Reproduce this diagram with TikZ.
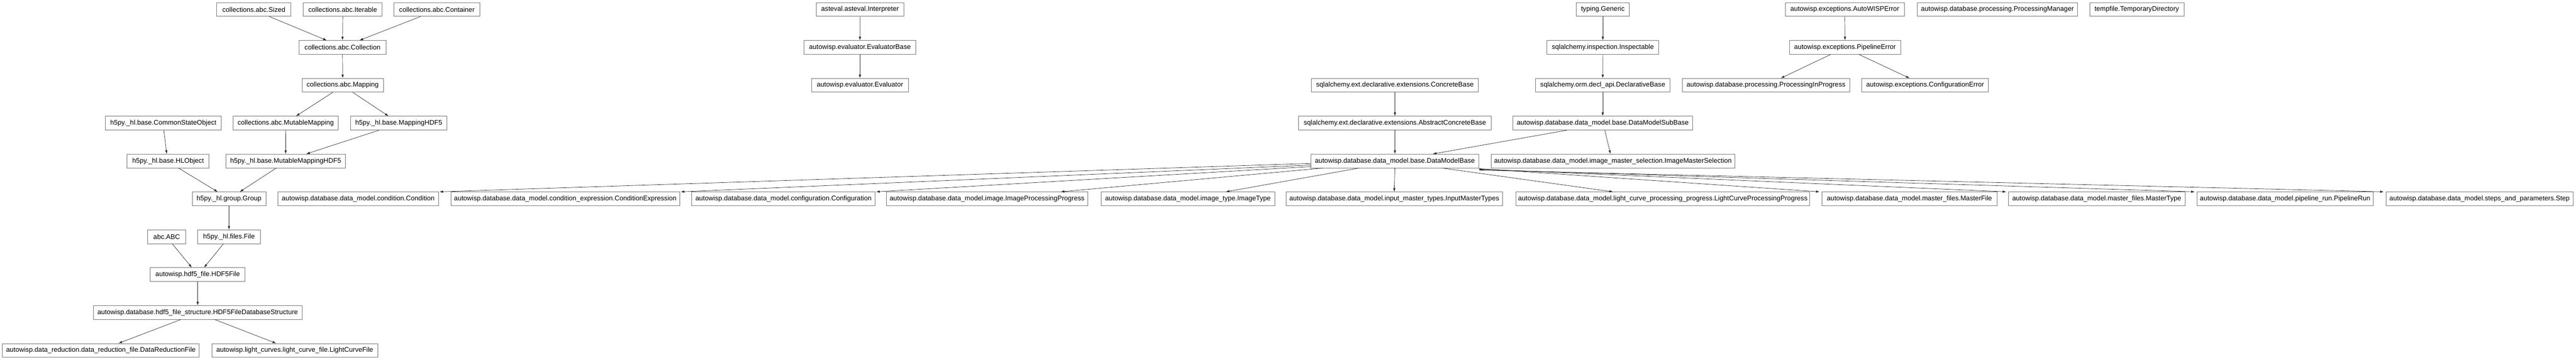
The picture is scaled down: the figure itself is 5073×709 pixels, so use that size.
\documentclass[tikz,border=0pt]{standalone}
\usepackage{fontspec}
\setmainfont{Liberation Sans}
\usetikzlibrary{arrows.meta}
\tikzset{
  cls/.style={draw=black!55, line width=0.9pt, fill=white, minimum height=27pt, inner sep=0pt, font=\fontsize{13.3}{15}\selectfont},
  inh/.style={draw=black!85, line width=0.7pt, -{Latex[length=7pt,width=4.6pt]}}
}
\begin{document}
\begin{tikzpicture}[x=1pt,y=-1pt]
\useasboundingbox[fill=white] (0,0) rectangle (5073,709);
% row 0
\node[cls, minimum width=146pt] (sized) at (500,18.8) {collections.abc.Sized};
\node[cls, minimum width=155.7pt] (iterable) at (674.9,18.8) {collections.abc.Iterable};
\node[cls, minimum width=168.6pt] (container) at (860.3,18.8) {collections.abc.Container};
\node[cls, minimum width=172.7pt] (interp) at (1693.7,18.8) {asteval.asteval.Interpreter};
\node[cls, minimum width=105pt] (generic) at (3156.5,18.8) {typing.Generic};
\node[cls, minimum width=234.4pt] (awerr) at (3633,18.8) {autowisp.exceptions.AutoWISPError};
\node[cls, minimum width=315.7pt] (procmgr) at (3933.5,18.8) {autowisp.database.processing.ProcessingManager};
\node[cls, minimum width=185.7pt] (tmpdir) at (4208,18.8) {tempfile.TemporaryDirectory};
% row 1
\node[cls, minimum width=171pt] (collection) at (674.5,93.4) {collections.abc.Collection};
\node[cls, minimum width=220pt] (evalbase) at (1693.5,93.4) {autowisp.evaluator.EvaluatorBase};
\node[cls, minimum width=220pt] (inspectable) at (3156.5,93.4) {sqlalchemy.inspection.Inspectable};
\node[cls, minimum width=219.2pt] (pipeerr) at (3633.4,93.4) {autowisp.exceptions.PipelineError};
% row 2
\node[cls, minimum width=160.4pt] (mapping) at (674.8,168) {collections.abc.Mapping};
\node[cls, minimum width=190.4pt] (evaluator) at (1693.5,168) {autowisp.evaluator.Evaluator};
\node[cls, minimum width=329pt] (concrete) at (2747,168) {sqlalchemy.ext.declarative.extensions.ConcreteBase};
\node[cls, minimum width=264pt] (declbase) at (3156.3,168) {sqlalchemy.orm.decl\_api.DeclarativeBase};
\node[cls, minimum width=329.6pt] (procinprog) at (3477.8,168) {autowisp.database.processing.ProcessingInProgress};
\node[cls, minimum width=249.5pt] (conferr) at (3791.2,168) {autowisp.exceptions.ConfigurationError};
% row 3
\node[cls, minimum width=228pt] (cso) at (321.7,242.6) {h5py.\_hl.base.CommonStateObject};
\node[cls, minimum width=207.5pt] (mutmap) at (562.7,242.6) {collections.abc.MutableMapping};
\node[cls, minimum width=189.4pt] (maphdf) at (785.3,242.6) {h5py.\_hl.base.MappingHDF5};
\node[cls, minimum width=379pt] (absconcrete) at (2747,242.6) {sqlalchemy.ext.declarative.extensions.AbstractConcreteBase};
\node[cls, minimum width=353.7pt] (dmsub) at (3156.3,242.6) {autowisp.database.data\_model.base.DataModelSubBase};
% row 4
\node[cls, minimum width=161pt] (hlobj) at (331,317.2) {h5py.\_hl.base.HLObject};
\node[cls, minimum width=235pt] (mutmaphdf) at (562.6,317.2) {h5py.\_hl.base.MutableMappingHDF5};
\node[cls, minimum width=330.7pt] (dmbase) at (2747,317.2) {autowisp.database.data\_model.base.DataModelBase};
\node[cls, minimum width=480.2pt] (imgsel) at (3176.4,317.2) {autowisp.database.data\_model.image\_master\_selection.ImageMasterSelection};
% row 5
\node[cls, minimum width=145pt] (group) at (451,391.8) {h5py.\_hl.group.Group};
\node[cls, minimum width=316.2pt] (condition) at (705.4,391.8) {autowisp.database.data\_model.condition.Condition};
\node[cls, minimum width=450.9pt] (condexpr) at (1113.3,391.8) {autowisp.database.data\_model.condition\_expression.ConditionExpression};
\node[cls, minimum width=361pt] (configuration) at (1543,391.8) {autowisp.database.data\_model.configuration.Configuration};
\node[cls, minimum width=396.2pt] (imgprog) at (1943.9,391.8) {autowisp.database.data\_model.image.ImageProcessingProgress};
\node[cls, minimum width=342pt] (imgtype) at (2339.4,391.8) {autowisp.database.data\_model.image\_type.ImageType};
\node[cls, minimum width=425.9pt] (inmaster) at (2745.7,391.8) {autowisp.database.data\_model.input\_master\_types.InputMasterTypes};
\node[cls, minimum width=578.8pt] (lcpp) at (3274.6,391.8) {autowisp.database.data\_model.light\_curve\_processing\_progress.LightCurveProcessingProgress};
\node[cls, minimum width=345.4pt] (mfile) at (3760.3,391.8) {autowisp.database.data\_model.master\_files.MasterFile};
\node[cls, minimum width=347.5pt] (mtype) at (4129.1,391.8) {autowisp.database.data\_model.master\_files.MasterType};
\node[cls, minimum width=347.1pt] (prun) at (4500.1,391.8) {autowisp.database.data\_model.pipeline\_run.PipelineRun};
\node[cls, minimum width=368.7pt] (step) at (4883.1,391.8) {autowisp.database.data\_model.steps\_and\_parameters.Step};
% row 6
\node[cls, minimum width=74.6pt] (abcabc) at (328.3,466.4) {abc.ABC};
\node[cls, minimum width=123.2pt] (files) at (450.9,466.4) {h5py.\_hl.files.File};
% row 7
\node[cls, minimum width=186.6pt] (hdffile) at (389.3,541) {autowisp.hdf5\_file.HDF5File};
% row 8
\node[cls, minimum width=410.6pt] (structure) at (389.3,615.6) {autowisp.database.hdf5\_file\_structure.HDF5FileDatabaseStructure};
% row 9
\node[cls, minimum width=387.4pt] (drfile) at (198.7,690.2) {autowisp.data\_reduction.data\_reduction\_file.DataReductionFile};
\node[cls, minimum width=326.8pt] (lcfile) at (580.4,690.2) {autowisp.light\_curves.light\_curve\_file.LightCurveFile};
% edges: collections / h5py cluster
\draw[inh] ([xshift=30.8pt]sized.south) -- ([xshift=-31.2pt]collection.north);
\draw[inh] (iterable.south) -- (collection.north);
\draw[inh] ([xshift=-32.6pt]container.south) -- ([xshift=33.5pt]collection.north);
\draw[inh] (collection.south) -- (mapping.north);
\draw[inh] ([xshift=-19.4pt]mapping.south) -- ([xshift=20.3pt]mutmap.north);
\draw[inh] ([xshift=19.8pt]mapping.south) -- ([xshift=-20.3pt]maphdf.north);
\draw[inh] (mutmap.south) -- (mutmaphdf.north);
\draw[inh] ([xshift=-38.9pt]maphdf.south) -- ([xshift=40.5pt]mutmaphdf.north);
\draw[inh] ([xshift=-18.8pt]mutmaphdf.south) -- ([xshift=21.3pt]group.north);
\draw[inh] ([xshift=20.7pt]hlobj.south) -- ([xshift=-22.4pt]group.north);
\draw[inh] ([xshift=1pt]cso.south) -- ([xshift=-2.7pt]hlobj.north);
\draw[inh] (group.south) -- (files.north);
\draw[inh] ([xshift=11pt]abcabc.south) -- ([xshift=-11.6pt]hdffile.north);
\draw[inh] ([xshift=-10.9pt]files.south) -- ([xshift=12.5pt]hdffile.north);
\draw[inh] (hdffile.south) -- (structure.north);
\draw[inh] ([xshift=-33.3pt]structure.south) -- ([xshift=34.8pt]drfile.north);
\draw[inh] ([xshift=33.7pt]structure.south) -- ([xshift=-36.6pt]lcfile.north);
% evaluator
\draw[inh] (interp.south) -- (evalbase.north);
\draw[inh] (evalbase.south) -- (evaluator.north);
% sqlalchemy
\draw[inh] (generic.south) -- (inspectable.north);
\draw[inh] (inspectable.south) -- (declbase.north);
\draw[inh] (declbase.south) -- (dmsub.north);
\draw[inh] (concrete.south) -- (absconcrete.north);
\draw[inh] (absconcrete.south) -- (dmbase.north);
\draw[inh] ([xshift=-70.5pt]dmsub.south) -- ([xshift=74.7pt]dmbase.north);
\draw[inh] ([xshift=4pt]dmsub.south) -- ([xshift=-4.8pt]imgsel.north);
% exceptions
\draw[inh] (awerr.south) -- (pipeerr.north);
\draw[inh] ([xshift=-28.4pt]pipeerr.south) -- ([xshift=29.2pt]procinprog.north);
\draw[inh] ([xshift=27.6pt]pipeerr.south) -- ([xshift=-30.7pt]conferr.north);
% data model fan
\draw[inh] ([yshift=-4.7pt]dmbase.west) -- ([xshift=1.5pt]condition.north east);
\draw[inh] ([yshift=-8pt]dmbase.west) -- ([xshift=1.5pt]condexpr.north east);
\draw[inh] ([yshift=-11pt]dmbase.west) -- ([xshift=1.5pt]configuration.north east);
\draw[inh] ([xshift=-141.8pt]dmbase.south) -- ([xshift=145pt]imgprog.north);
\draw[inh] ([xshift=-70.8pt]dmbase.south) -- ([xshift=74.6pt]imgtype.north);
\draw[inh] (dmbase.south) -- (inmaster.north);
\draw[inh] ([xshift=93.2pt]dmbase.south) -- ([xshift=-98.1pt]lcpp.north);
\draw[inh] ([yshift=-1pt]dmbase.south east) -- ([xshift=-4pt]mfile.north west);
\draw[inh] ([yshift=-2pt]dmbase.south east) -- ([xshift=-4pt]mtype.north west);
\draw[inh] ([yshift=-3pt]dmbase.south east) -- ([xshift=-4pt]prun.north west);
\draw[inh] ([yshift=-4pt]dmbase.south east) -- ([xshift=-4pt]step.north west);
\end{tikzpicture}
\end{document}
